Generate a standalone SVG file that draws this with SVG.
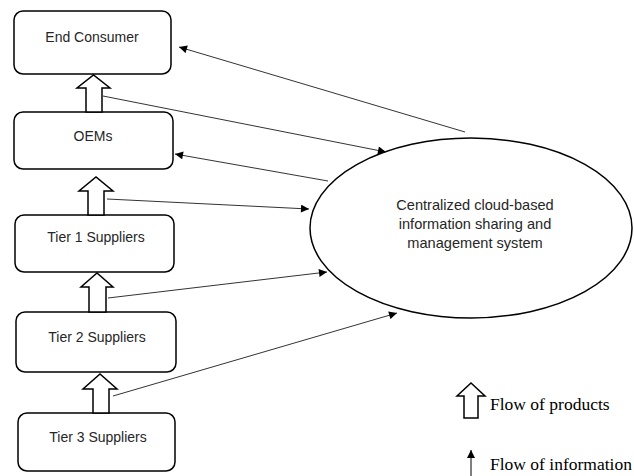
<svg xmlns="http://www.w3.org/2000/svg" width="634" height="476" viewBox="0 0 634 476">
<defs>
<style>
.box{fill:#fff;stroke:#000;stroke-width:1.5}
.lbl{font-family:"Liberation Sans",Arial,sans-serif;font-size:14px;fill:#262626;text-anchor:middle}
.big{font-size:14.6px}
.blk{fill:#fff;stroke:#000;stroke-width:1.5;stroke-linejoin:miter}
.con{stroke:#333;stroke-width:1;fill:none;marker-end:url(#ah)}
.leg{font-family:"Liberation Serif","Times New Roman",serif;font-size:17.5px;fill:#000}
</style>
<marker id="ah" viewBox="0 0 10 10" refX="10" refY="5" markerWidth="10" markerHeight="8" markerUnits="userSpaceOnUse" orient="auto">
<path d="M0,0 L10,5 L0,10 Z" fill="#000"/>
</marker>
</defs>
<rect width="634" height="476" fill="#fff"/>
<g id="end-consumer"><rect class="box" x="14" y="11" width="157" height="63" rx="9"/><text class="lbl" x="92" y="42">End Consumer</text></g>
<g id="oems"><rect class="box" x="14" y="112" width="159" height="57" rx="9"/><text class="lbl" x="93" y="141">OEMs</text></g>
<g id="tier1"><rect class="box" x="15" y="215" width="159" height="57" rx="9"/><text class="lbl" x="96" y="242">Tier 1 Suppliers</text></g>
<g id="tier2"><rect class="box" x="16" y="312" width="160" height="60" rx="9"/><text class="lbl" x="97" y="342">Tier 2 Suppliers</text></g>
<g id="tier3"><rect class="box" x="18" y="413" width="157" height="58" rx="9"/><text class="lbl" x="98" y="442">Tier 3 Suppliers</text></g>
<g id="cloud"><ellipse class="box" cx="471" cy="228" rx="161" ry="90"/>
<text class="lbl big" x="475" y="210">Centralized cloud-based</text>
<text class="lbl big" x="475" y="229">information sharing and</text>
<text class="lbl big" x="475" y="248">management system</text></g>
<g id="product-arrows">
<path class="blk" d="M86,112 L86,88 L77,88 L93.5,75 L110,88 L102,88 L102,112 Z"/>
<path class="blk" d="M88,215 L88,191 L79,191 L96,177 L113,191 L104,191 L104,215 Z"/>
<path class="blk" d="M89,312 L89,287 L81,287 L97,273 L113,287 L106,287 L106,312 Z"/>
<path class="blk" d="M93,413 L93,389 L83,389 L100,374 L117,389 L109,389 L109,413 Z"/>
</g>
<g id="connectors">
<line class="con" x1="465" y1="132" x2="179" y2="47"/>
<line class="con" x1="103" y1="96" x2="386" y2="152"/>
<line class="con" x1="328" y1="181" x2="175" y2="154"/>
<line class="con" x1="107" y1="199" x2="309" y2="209"/>
<line class="con" x1="108" y1="298" x2="327" y2="272"/>
<line class="con" x1="113" y1="396" x2="397" y2="313"/>
</g>
<g id="legend">
<path class="blk" d="M464,418 L464,396 L457,396 L471,383 L485,396 L478,396 L478,418 Z"/>
<text class="leg" x="490" y="410">Flow of products</text>
<line x1="471" y1="476" x2="471" y2="450" stroke="#000" stroke-width="1" marker-end="url(#ah)"/>
<text class="leg" x="490" y="470">Flow of information</text>
</g>
</svg>
